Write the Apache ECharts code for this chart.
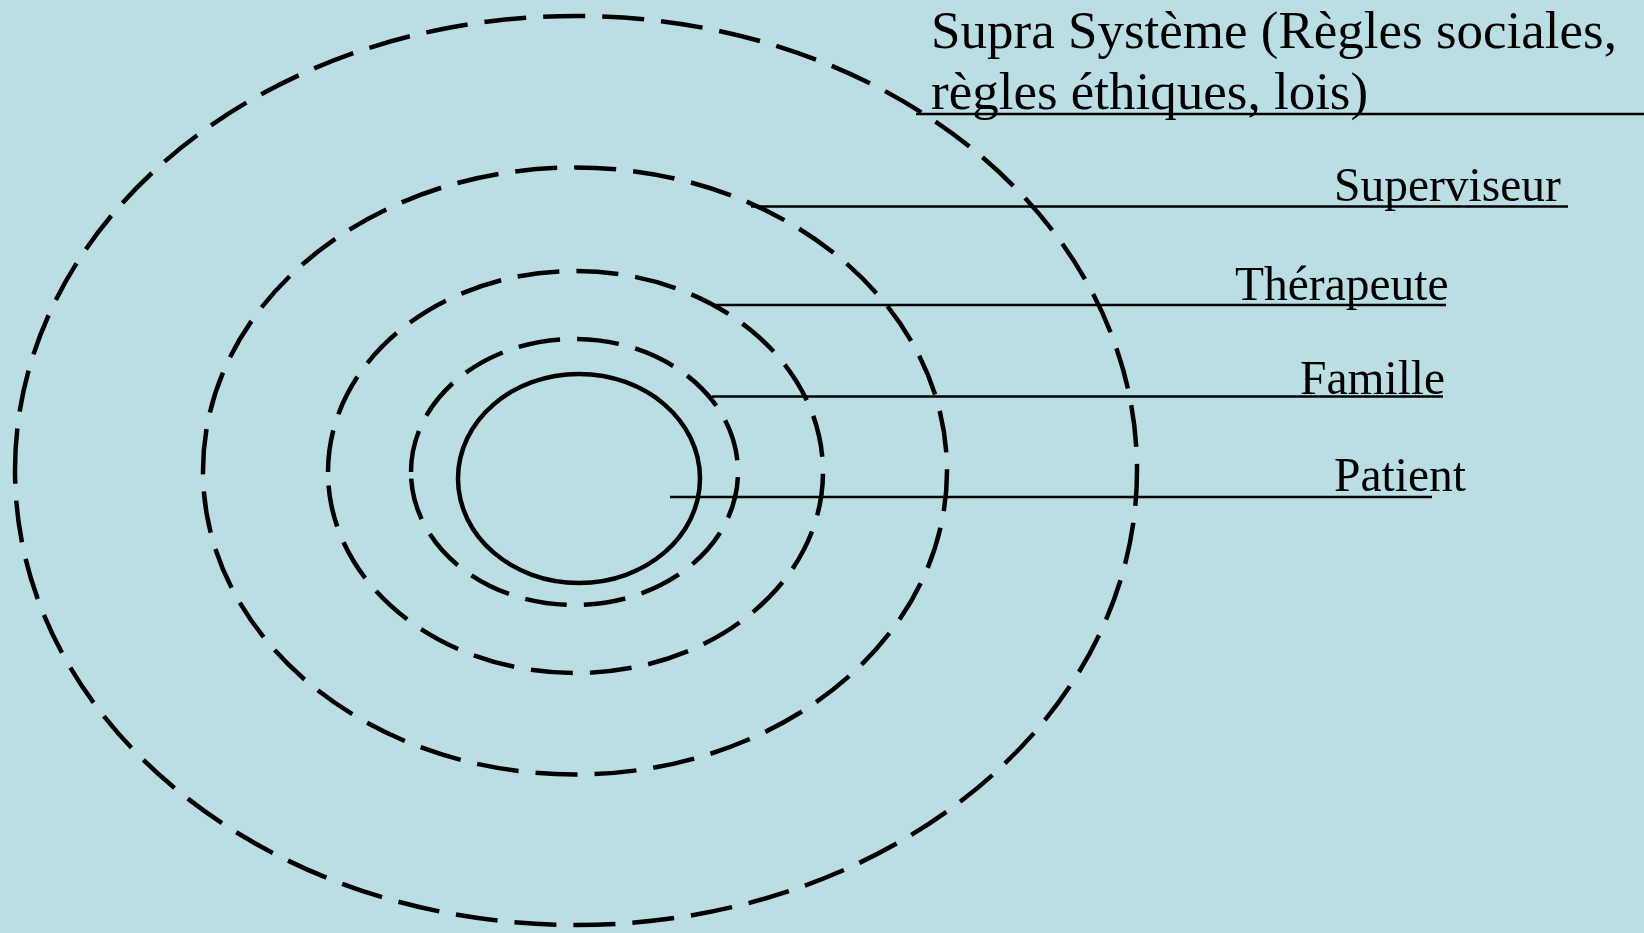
<!DOCTYPE html>
<html>
<head>
<meta charset="utf-8">
<script src="https://cdn.jsdelivr.net/npm/echarts@6/dist/echarts.min.js"></script>
<style>
  html, body { margin: 0; padding: 0; background: #badee3; }
  #chart { width: 1644px; height: 933px; }
</style>
</head>
<body>
<div id="chart"></div>
<script>
// Concentric systems (outer to inner), in diagram units (x: 0..1644, y: 0..933 downward)
const ringNames = ['Supra Système', 'Superviseur', 'Thérapeute', 'Famille', 'Patient'];
const ringCx = [576, 575, 575.5, 574.5, 579];
const ringCy = [470.5, 471, 472, 472, 478.5];
const ringRx = [561, 372, 247.5, 163.5, 121];
const ringRy = [454.5, 303.5, 201, 133, 104.5];
const ringDashed = [true, true, true, true, false];

// Labels with leader lines
const labelTexts = ['Supra Système (Règles sociales,\nrègles éthiques, lois)', 'Superviseur', 'Thérapeute', 'Famille', 'Patient'];
const leaderY = [114, 206.5, 305, 396.5, 497];
const leaderX0 = [916, 751, 714, 712, 670];
const leaderX1 = [1644, 1568, 1446, 1443, 1432];
const labelX = [931, 1334, 1235, 1300, 1334];
const labelY = [65, 189, 288, 382, 479];
const labelSize = [53, 47.5, 47.5, 47.5, 47.5];

const FONT = "'Liberation Serif', 'Times New Roman', serif";

const ringData = ringCx.map((x, i) => [x, ringCy[i], ringRx[i], ringRy[i], i]);
const leaderData = leaderY.map((y, i) => [leaderX0[i], y, leaderX1[i], labelX[i], labelY[i], i]);

const chart = echarts.init(document.getElementById('chart'), null, { renderer: 'canvas' });
chart.setOption({
  backgroundColor: '#badee3',
  animation: false,
  grid: { left: 0, right: 0, top: 0, bottom: 0 },
  xAxis: { type: 'value', min: 0, max: 1644, show: false },
  yAxis: { type: 'value', min: 0, max: 933, inverse: true, show: false },
  series: [
    {
      type: 'custom',
      name: 'rings',
      data: ringData,
      encode: { x: 0, y: 1 },
      renderItem: function (params, api) {
        const c = api.coord([api.value(0), api.value(1)]);
        const s = api.size([api.value(2), api.value(3)]);
        const i = api.value(4);
        return {
          type: 'ellipse',
          shape: { cx: c[0], cy: c[1], rx: Math.abs(s[0]), ry: Math.abs(s[1]) },
          style: {
            fill: null,
            stroke: '#000',
            lineWidth: 4.5,
            lineDash: ringDashed[i] ? [42, 17] : null
          }
        };
      }
    },
    {
      type: 'custom',
      name: 'leaders',
      data: leaderData,
      encode: { x: 0, y: 1 },
      renderItem: function (params, api) {
        const i = api.value(5);
        const p0 = api.coord([api.value(0), api.value(1)]);
        const p1 = api.coord([api.value(2), api.value(1)]);
        const t = api.coord([api.value(3), api.value(4)]);
        return {
          type: 'group',
          children: [
            {
              type: 'line',
              shape: { x1: p0[0], y1: p0[1], x2: p1[0], y2: p1[1] },
              style: { stroke: '#000', lineWidth: 2.3 }
            },
            {
              type: 'text',
              x: t[0],
              y: t[1],
              style: {
                text: labelTexts[i],
                fill: '#000',
                font: labelSize[i] + 'px ' + FONT,
                align: 'left',
                verticalAlign: 'middle',
                lineHeight: 61
              }
            }
          ]
        };
      }
    }
  ]
});
</script>
</body>
</html>
